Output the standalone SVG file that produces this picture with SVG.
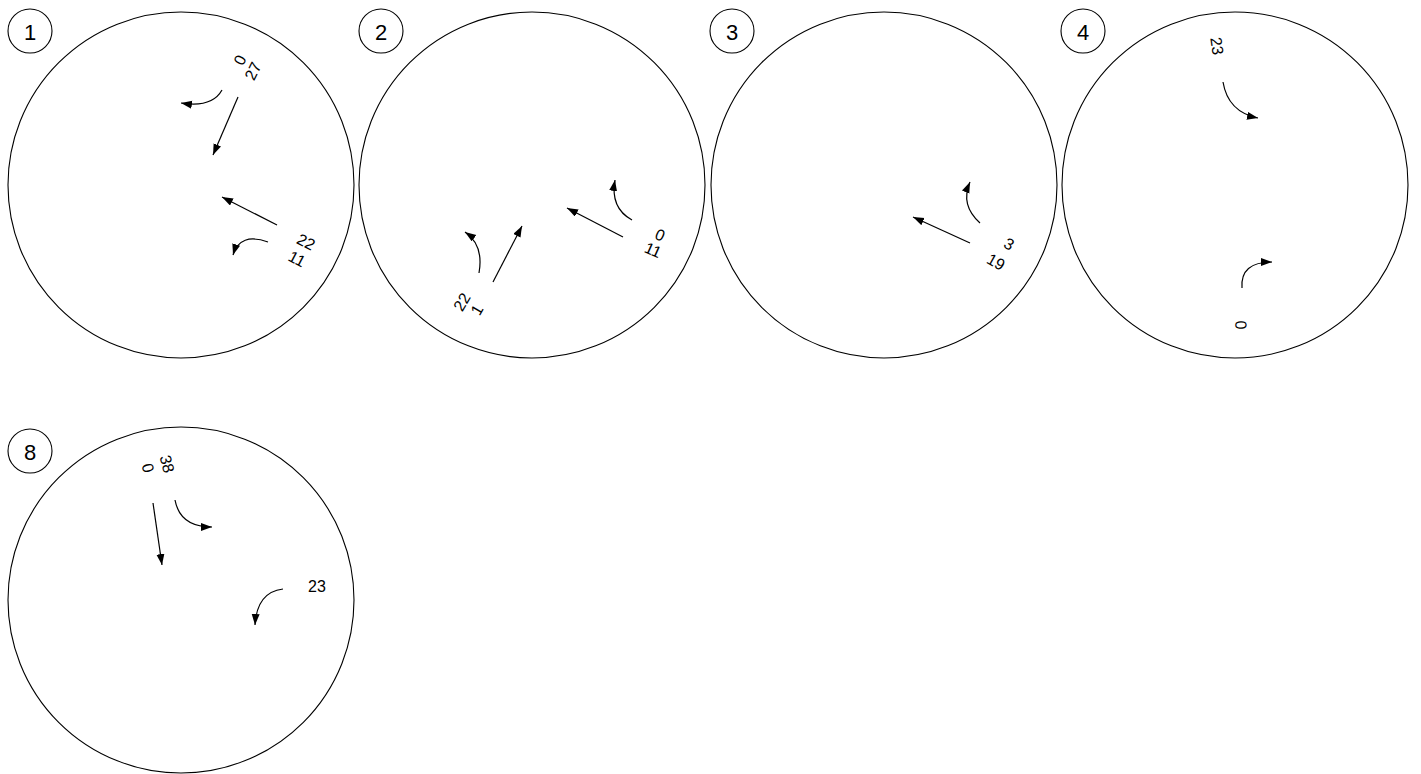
<svg xmlns="http://www.w3.org/2000/svg" width="1421" height="774" viewBox="0 0 1421 774">
<style>
.big{fill:#fff;stroke:#000;stroke-width:1.1}
.lab{fill:#fff;stroke:#000;stroke-width:1.1}
.lt{font-family:"Liberation Sans",Arial,sans-serif;font-size:22px;fill:#000;text-anchor:middle;dominant-baseline:central}
.t{font-family:"Liberation Sans",Arial,sans-serif;font-size:16px;fill:#000;text-anchor:middle;dominant-baseline:central}
.a{fill:none;stroke:#000;stroke-width:1.2;marker-end:url(#ah)}
</style>
<defs>
<marker id="ah" markerUnits="userSpaceOnUse" markerWidth="12" markerHeight="9" refX="11" refY="4" orient="auto">
<path d="M0,0 L11,4 L0,8 z" fill="#000"/>
</marker>
</defs>
<rect width="1421" height="774" fill="#fff"/>
<g id="node1">
<circle class="big" cx="181" cy="185" r="173"/>
<circle class="lab" cx="30" cy="31" r="22"/>
<text class="lt" x="30" y="32">1</text>
<text class="t" transform="translate(240,60) rotate(-64)">0</text>
<text class="t" transform="translate(253,71) rotate(-64)">27</text>
<text class="t" transform="translate(306,242) rotate(28)">22</text>
<text class="t" transform="translate(297,259) rotate(28)">11</text>
</g>
<g id="node2">
<circle class="big" cx="532" cy="185" r="173"/>
<circle class="lab" cx="381" cy="31" r="22"/>
<text class="lt" x="381" y="32">2</text>
<text class="t" transform="translate(660,235) rotate(24)">0</text>
<text class="t" transform="translate(653,250) rotate(24)">11</text>
<text class="t" transform="translate(462,302) rotate(-60)">22</text>
<text class="t" transform="translate(477,310) rotate(-60)">1</text>
</g>
<g id="node3">
<circle class="big" cx="884" cy="185" r="173"/>
<circle class="lab" cx="732" cy="31" r="22"/>
<text class="lt" x="732" y="32">3</text>
<text class="t" transform="translate(1009,244) rotate(29)">3</text>
<text class="t" transform="translate(996,262) rotate(29)">19</text>
</g>
<g id="node4">
<circle class="big" cx="1235" cy="185" r="173"/>
<circle class="lab" cx="1083" cy="31" r="22"/>
<text class="lt" x="1083" y="32">4</text>
<text class="t" transform="translate(1217,46) rotate(82)">23</text>
<text class="t" transform="translate(1241,325) rotate(88)">0</text>
</g>
<g id="node8">
<circle class="big" cx="181" cy="600" r="173"/>
<circle class="lab" cx="30" cy="451" r="22"/>
<text class="lt" x="30" y="452">8</text>
<text class="t" transform="translate(167,464) rotate(76)">38</text>
<text class="t" transform="translate(148,468) rotate(76)">0</text>
<text class="t" transform="translate(317,586)">23</text>
</g>
<g id="connectors">
<path class="a" d="M238,97 L213,155"/>
<path class="a" d="M222,90 Q212,108 181,103"/>
<path class="a" d="M277,225 L222,197"/>
<path class="a" d="M268,242 Q240,232 233,255"/>
<path class="a" d="M493,282 L522,226"/>
<path class="a" d="M479,273 Q484,245 465,232"/>
<path class="a" d="M623,237 L567,208"/>
<path class="a" d="M632,220 Q610,208 615,180"/>
<path class="a" d="M970,243 L913,217"/>
<path class="a" d="M980,223 Q960,205 970,182"/>
<path class="a" d="M1223,82 Q1228,112 1258,118"/>
<path class="a" d="M1242,288 Q1240,262 1272,262"/>
<path class="a" d="M153,503 L162,565"/>
<path class="a" d="M175,500 Q180,527 212,527"/>
<path class="a" d="M283,589 Q257,592 255,625"/>
</g>
</svg>
